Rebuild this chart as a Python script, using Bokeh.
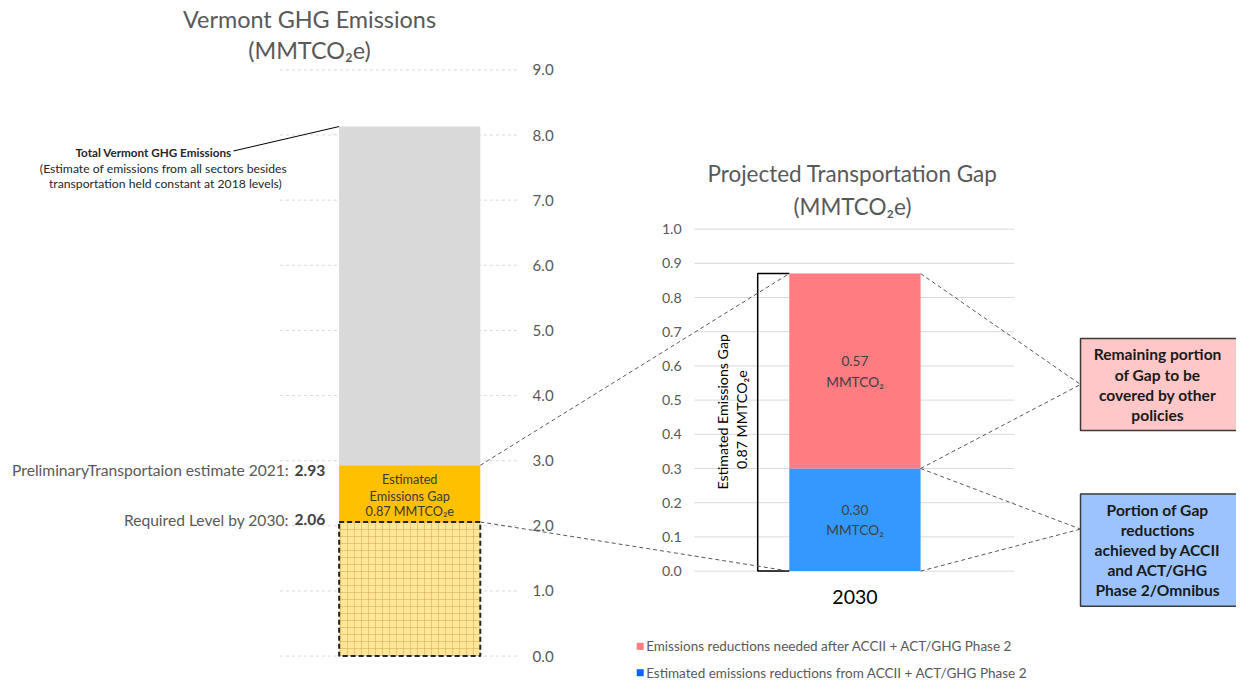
import numpy as np
from bokeh.plotting import figure
from bokeh.models import Range1d, ColumnDataSource
from bokeh.core.properties import value
from bokeh.embed import file_html
from bokeh.resources import INLINE

# ---------------- data ----------------
left_ticks = [0.0, 1.0, 2.0, 3.0, 4.0, 5.0, 6.0, 7.0, 8.0, 9.0]
left_tick_labels = ["0.0", "1.0", "2.0", "3.0", "4.0", "5.0", "6.0", "7.0", "8.0", "9.0"]
total_ghg = 8.13          # total Vermont GHG emissions
transport_2021 = 2.93     # preliminary transportation estimate 2021
required_2030 = 2.06      # required level by 2030
gap_total = 0.87          # estimated emissions gap

gap_ticks = [0.0, 0.1, 0.2, 0.3, 0.4, 0.5, 0.6, 0.7, 0.8, 0.9, 1.0]
gap_tick_labels = ["0.0", "0.1", "0.2", "0.3", "0.4", "0.5", "0.6", "0.7", "0.8", "0.9", "1.0"]
gap_year = "2030"
gap_series = ["Estimated emissions reductions from ACCII + ACT/GHG Phase 2",
              "Emissions reductions needed after ACCII + ACT/GHG Phase 2"]
gap_values = [0.30, 0.57]
gap_value_labels = ["0.30", "0.57"]
gap_colors = ["#3399ff", "#ff7c80"]
legend_colors = ["#0066ff", "#ff7c80"]

# ---------------- layout (reference-canvas coordinates) ----------------
W, H = 1236, 682              # figure size on the page
CW, CH = 1252, 698            # design canvas
L_ZERO, L_PX = 671.0, 600.0 / 9.0      # left chart: canvas y of 0, px per unit
G_ZERO, G_PX = 584.0, 350.0            # right chart
FONT = value("Lato")
GREY_TXT = "#595959"

def ly(v):
    return L_ZERO - v * L_PX

def gy(v):
    return G_ZERO - v * G_PX

def fs(px):
    return value("%.1fpx" % (px * H / CH))

p = figure(width=W, height=H, output_backend="svg", toolbar_location=None,
           x_range=Range1d(0, CW),
           y_range=Range1d((L_ZERO - CH) / L_PX, L_ZERO / L_PX),
           x_axis_type=None, y_axis_type=None, min_border=0)
p.extra_y_ranges = {
    "gap": Range1d((G_ZERO - CH) / G_PX, G_ZERO / G_PX),
    "px": Range1d(CH, 0),
}
p.outline_line_color = None
p.background_fill_color = "white"
p.border_fill_color = "white"
p.grid.visible = False

# ---------- left chart ----------
LX, LW = 414.5, 143
p.segment(x0=283, x1=525, y0=left_ticks, y1=left_ticks,
          line_color="#d9d9d9", line_dash="3 3", line_width=1)
p.text(x=539, y=left_ticks, text=left_tick_labels, text_font=FONT,
       text_font_size=fs(15.5), text_color=GREY_TXT,
       text_align="left", text_baseline="middle")

p.vbar(x=LX, width=LW, bottom=transport_2021, top=total_ghg,
       fill_color="#d9d9d9", line_color=None)
p.vbar(x=LX, width=LW, bottom=required_2030, top=transport_2021,
       fill_color="#ffc000", line_color=None)
p.vbar(x=LX, width=LW, bottom=0, top=required_2030,
       fill_color="#ffe699", hatch_pattern="+", hatch_color="#c9a24a",
       hatch_alpha=0.45, hatch_scale=7, hatch_weight=1,
       line_color="#262626", line_dash="5 3", line_width=2)

p.text(x=LX, y=[ly(transport_2021) + 14, ly(transport_2021) + 31, ly(transport_2021) + 47],
       text=["Estimated", "Emissions Gap", "%.2f MMTCO\u2082e" % gap_total],
       y_range_name="px", text_font=FONT, text_font_size=fs(13),
       text_color="#3a3a3a", text_align="center", text_baseline="middle")

# left side labels
p.text(x=[329, 329], y=[ly(transport_2021) + 5, ly(required_2030) - 2],
       text=["%.2f" % transport_2021, "%.2f" % required_2030], y_range_name="px",
       text_font=FONT, text_font_size=fs(16), text_font_style="bold",
       text_color="#404040", text_align="right", text_baseline="middle")
p.text(x=[292, 292], y=[ly(transport_2021) + 5, ly(required_2030) - 2],
       text=["PreliminaryTransportaion estimate 2021:", "Required Level by 2030:"],
       y_range_name="px", text_font=FONT, text_font_size=fs(16),
       text_color=GREY_TXT, text_align="right", text_baseline="middle")

# titles
p.text(x=[313, 313], y=[19, 51], text=["Vermont GHG Emissions", "(MMTCO\u2082e)"],
       y_range_name="px", text_font=FONT, text_font_size=fs(24),
       text_color=GREY_TXT, text_align="center", text_baseline="middle")

# total emissions callout
p.segment(x0=236, y0=154, x1=LX - LW / 2, y1=ly(total_ghg), y_range_name="px",
          line_color="#000000", line_width=1)
p.text(x=155, y=155, text=["Total Vermont GHG Emissions"], y_range_name="px",
       text_font=FONT, text_font_size=fs(12), text_font_style="bold",
       text_color="#262626", text_align="center", text_baseline="middle")
p.text(x=[165, 167], y=[172, 187],
       text=["(Estimate of emissions from all sectors besides",
             "transportation held constant at 2018 levels)"],
       y_range_name="px", text_font=FONT, text_font_size=fs(12.5),
       text_color="#262626", text_align="center", text_baseline="middle")

# ---------- right chart ----------
RX, RW = 865.5, 133
p.segment(x0=703, x1=1027, y0=gap_ticks, y1=gap_ticks, y_range_name="gap",
          line_color="#d9d9d9", line_width=1)
p.text(x=690, y=gap_ticks, text=gap_tick_labels, y_range_name="gap",
       text_font=FONT, text_font_size=fs(14.5), text_color=GREY_TXT,
       text_align="right", text_baseline="middle")

bottoms = list(np.cumsum([0] + gap_values[:-1]))
tops = list(np.cumsum(gap_values))
src = ColumnDataSource(dict(bottom=bottoms, top=tops, color=gap_colors,
                            mid=[(b + t) / 2 for b, t in zip(bottoms, tops)],
                            lab=gap_value_labels))
p.vbar(x=RX, width=RW, bottom="bottom", top="top", fill_color="color",
       line_color=None, source=src, y_range_name="gap")
p.text(x=RX, y="mid", text="lab", source=src, y_range_name="gap",
       text_font=FONT, text_font_size=fs(14), text_color="#404040",
       text_align="center", text_baseline="middle", y_offset=-10)
p.text(x=RX, y="mid", text=value("MMTCO\u2082"), source=src, y_range_name="gap",
       text_font=FONT, text_font_size=fs(14), text_color="#404040",
       text_align="center", text_baseline="middle", y_offset=10)

p.text(x=RX, y=611, text=[gap_year], y_range_name="px", text_font=FONT,
       text_font_size=fs(20), text_color="#000000",
       text_align="center", text_baseline="middle")

p.text(x=[863, 863], y=[177, 211], text=["Projected Transportation Gap", "(MMTCO\u2082e)"],
       y_range_name="px", text_font=FONT, text_font_size=fs(23),
       text_color=GREY_TXT, text_align="center", text_baseline="middle")

# bracket
p.line(x=[RX - RW / 2, 767, 767, RX - RW / 2], y=[gap_total, gap_total, 0, 0],
       y_range_name="gap", line_color="#000000", line_width=1.5)
p.text(x=[731, 751], y=[421, 429],
       text=["Estimated Emissions Gap", "%.2f MMTCO\u2082e" % gap_total],
       y_range_name="px", angle=np.pi / 2, text_font=FONT,
       text_font_size=fs(14.5), text_color="#000000",
       text_align="center", text_baseline="middle")

# legend
p.scatter(x=[648, 648], y=[661, 688], marker="square", size=7,
          fill_color=[legend_colors[1], legend_colors[0]], line_color=None,
          y_range_name="px")
p.text(x=[654, 654], y=[661, 688], text=[gap_series[1], gap_series[0]],
       y_range_name="px", text_font=FONT, text_font_size=fs(13.8),
       text_color=GREY_TXT, text_align="left", text_baseline="middle")

# connectors
BOX_L = 1094
pink_mid, blue_mid = 393, 541
x0s = [LX + LW / 2, LX + LW / 2, RX + RW / 2, RX + RW / 2, RX + RW / 2, RX + RW / 2]
y0s = [ly(transport_2021), ly(required_2030), gy(gap_total), gy(gap_values[0]),
       gy(gap_values[0]), gy(0)]
x1s = [RX - RW / 2, RX - RW / 2, BOX_L, BOX_L, BOX_L, BOX_L]
y1s = [gy(gap_total), gy(0), pink_mid, pink_mid, blue_mid, blue_mid]
p.segment(x0=x0s, y0=y0s, x1=x1s, y1=y1s, y_range_name="px",
          line_color="#595959", line_dash="4 3", line_width=1)

# boxes
p.quad(left=BOX_L, right=1270, top=[346, 505], bottom=[440, 620],
       fill_color=["#ffc7c7", "#9dc3fe"], line_color="#3a3a3a", line_width=1.5,
       y_range_name="px")
p.text(x=1172, y=[362, 383, 404, 424],
       text=["Remaining portion", "of Gap to be", "covered by other", "policies"],
       y_range_name="px", text_font=FONT, text_font_size=fs(16),
       text_font_style="bold", text_color="#1a1a1a",
       text_align="center", text_baseline="middle")
p.text(x=1172, y=[521, 542, 562, 583, 603],
       text=["Portion of Gap", "reductions", "achieved by ACCII", "and ACT/GHG",
             "Phase 2/Omnibus"],
       y_range_name="px", text_font=FONT, text_font_size=fs(16),
       text_font_style="bold", text_color="#1a1a1a",
       text_align="center", text_baseline="middle")

open("out.html", "w").write(file_html(p, INLINE))
